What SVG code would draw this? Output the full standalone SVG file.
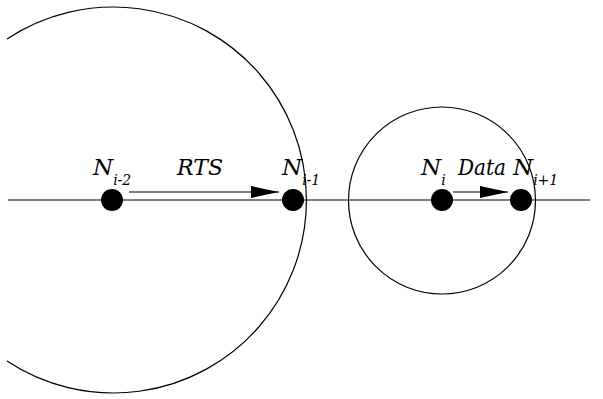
<svg xmlns="http://www.w3.org/2000/svg" width="603" height="399" viewBox="0 0 603 399">
<style>
.ln{fill:none;stroke:#000;stroke-width:1.2}
.nd{fill:#000}
.t{font-family:'DejaVu Serif',serif;font-style:italic;font-size:23px;fill:#000}
.s{font-size:14px}
</style>
<defs>
<marker id="ah" markerWidth="28" markerHeight="12" refX="28" refY="6" orient="auto" markerUnits="userSpaceOnUse">
<path d="M0,0 L28,6 L0,12 Z" fill="#000"/>
</marker>
</defs>
<rect width="603" height="399" fill="#fff"/>
<g id="ranges">
<path class="ln" d="M7,39 A193,193 0 1 1 7,361"/>
<circle class="ln" cx="442" cy="200.5" r="93.5"/>
</g>
<g id="connectors">
<line class="ln" x1="8" y1="200" x2="590" y2="200"/>
<line class="ln" x1="129" y1="192" x2="279" y2="192" stroke-width="1.5" marker-end="url(#ah)"/>
<line class="ln" x1="453" y1="192" x2="508" y2="192" stroke-width="1.5" marker-end="url(#ah)"/>
</g>
<g id="n-i-2">
<circle class="nd" cx="112" cy="200" r="11"/>
<text class="t" x="93" y="175">N<tspan class="s" dy="10">i-2</tspan></text>
</g>
<g id="n-i-1">
<circle class="nd" cx="293" cy="200" r="11"/>
<text class="t" x="282" y="175">N<tspan class="s" dy="10">i-1</tspan></text>
</g>
<g id="n-i">
<circle class="nd" cx="442" cy="200" r="11"/>
<text class="t" x="421" y="175">N<tspan class="s" dy="10">i</tspan></text>
</g>
<g id="n-i+1">
<circle class="nd" cx="521" cy="200" r="11"/>
<text class="t" x="513" y="175">N<tspan class="s" dy="10">i+1</tspan></text>
</g>
<g id="labels">
<text class="t" x="177" y="175" textLength="46" lengthAdjust="spacingAndGlyphs">RTS</text>
<text class="t" x="458" y="175" textLength="48" lengthAdjust="spacingAndGlyphs">Data</text>
</g>
</svg>
